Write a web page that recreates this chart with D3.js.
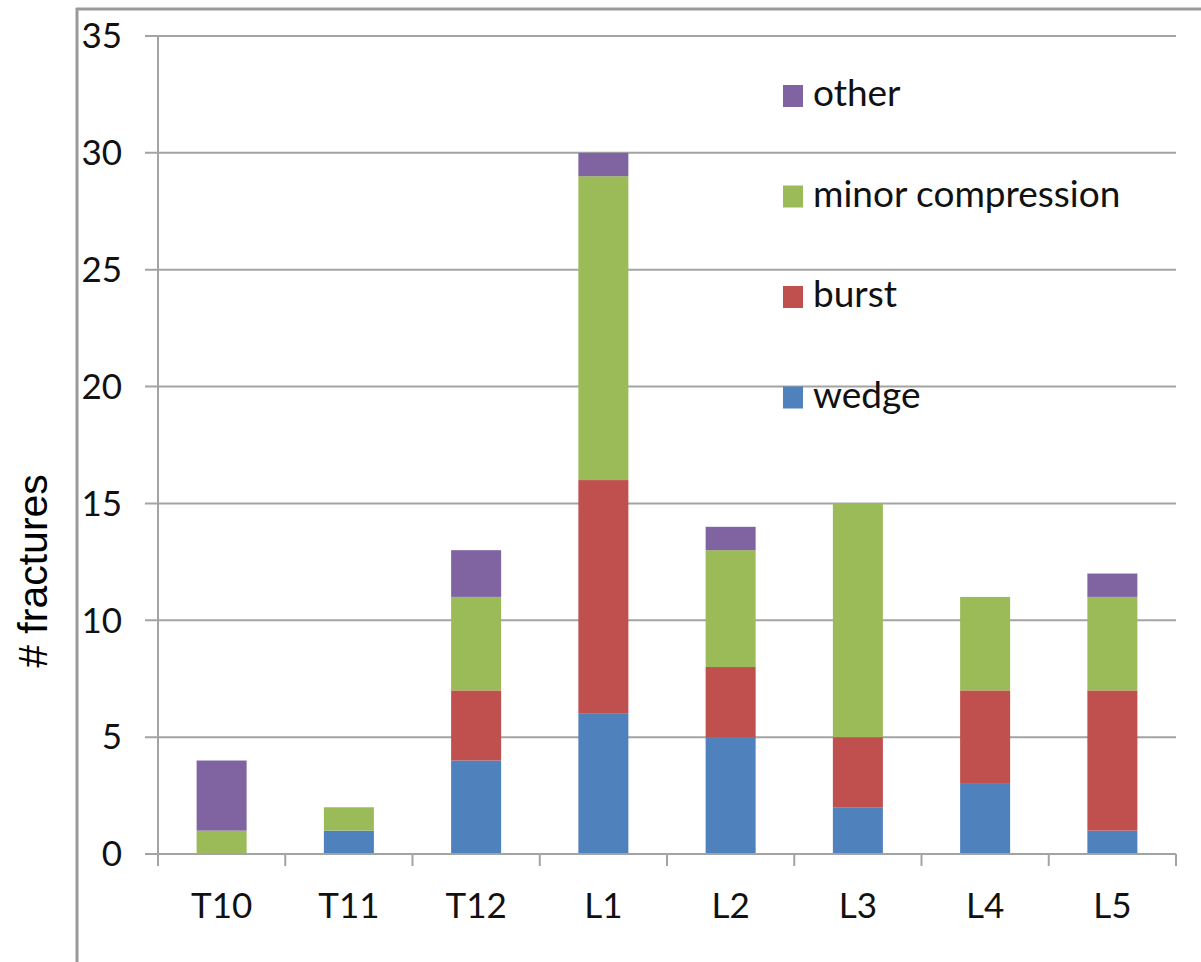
<!DOCTYPE html>
<html><head><meta charset="utf-8">
<script src="https://cdn.jsdelivr.net/npm/d3@7"></script>
<style>body{margin:0;background:#fff}svg{display:block}</style>
</head><body>
<svg id="c" width="1201" height="962"></svg>
<script>
const categories = ["T10","T11","T12","L1","L2","L3","L4","L5"];
const wedge = [0,1,4,6,5,2,3,1];
const burst = [0,0,3,10,3,3,4,6];
const minorCompression = [1,1,4,13,5,10,4,4];
const other = [3,0,2,1,1,0,0,1];
const seriesNames = ["wedge","burst","minor compression","other"];
const seriesColors = ["#4F81BD","#C0504D","#9BBB59","#8064A2"];
const yTicks = [0,5,10,15,20,25,30,35];
const yLabel = "# fractures";

const svg = d3.select("#c");
const font = "Lato, 'Open Sans', sans-serif";
const L = 158, R = 1176, T = 36, B = 854;

const rows = categories.map((c,i)=>({cat:c, wedge:wedge[i], burst:burst[i], "minor compression":minorCompression[i], other:other[i]}));
const stack = d3.stack().keys(seriesNames)(rows);

const x = d3.scaleBand().domain(categories).range([L,R]).paddingInner(0.607).paddingOuter(0.3035);
const y = d3.scaleLinear().domain([0,35]).range([B,T]);

// outer frame
svg.append("line").attr("x1",76).attr("x2",1201).attr("y1",9).attr("y2",9).attr("stroke","#9a9a9a").attr("stroke-width",3);
svg.append("line").attr("x1",77).attr("x2",77).attr("y1",8).attr("y2",962).attr("stroke","#9a9a9a").attr("stroke-width",3);

// gridlines
svg.append("g").selectAll("line").data(yTicks).join("line")
  .attr("x1",L-13).attr("x2",R).attr("y1",d=>y(d)).attr("y2",d=>y(d))
  .attr("stroke","#a3a3a3").attr("stroke-width",2);

// y tick labels
svg.append("g").selectAll("text").data(yTicks).join("text")
  .attr("x",122).attr("y",d=>y(d)).attr("dy","0.35em").attr("text-anchor","end")
  .attr("font-family",font).attr("font-size",35).attr("fill","#111").text(d=>d);

// bars
svg.append("g").selectAll("g").data(stack).join("g")
  .attr("fill",(d,i)=>seriesColors[i])
  .selectAll("rect").data(d=>d).join("rect")
  .attr("x",d=>x(d.data.cat)).attr("width",x.bandwidth())
  .attr("y",d=>y(d[1])).attr("height",d=>y(d[0])-y(d[1]));

// axes lines
svg.append("line").attr("x1",L).attr("x2",L).attr("y1",T).attr("y2",B+12).attr("stroke","#a3a3a3").attr("stroke-width",2);
const bounds = categories.map(c=>x(c)-x.step()*x.paddingOuter()).concat([R]);
svg.append("g").selectAll("line").data(bounds).join("line")
  .attr("x1",d=>d).attr("x2",d=>d).attr("y1",B).attr("y2",B+12).attr("stroke","#a3a3a3").attr("stroke-width",2);
svg.append("line").attr("x1",L-13).attr("x2",R).attr("y1",B).attr("y2",B).attr("stroke","#a3a3a3").attr("stroke-width",2);

// x labels
svg.append("g").selectAll("text").data(categories).join("text")
  .attr("x",d=>x(d)+x.bandwidth()/2).attr("y",918).attr("text-anchor","middle")
  .attr("font-family",font).attr("font-size",35).attr("fill","#111").text(d=>d);

// y label
svg.append("text").attr("transform","translate(47,571) rotate(-90)").attr("text-anchor","middle")
  .attr("font-family","'Liberation Sans', Arial, sans-serif").attr("font-size",41).attr("fill","#000").text(yLabel);

// legend
const legOrder = [3,2,1,0];
const lg = svg.append("g").selectAll("g").data(legOrder).join("g")
  .attr("transform",(d,i)=>`translate(783,${85+i*100.5})`);
lg.append("rect").attr("width",20).attr("height",22).attr("fill",d=>seriesColors[d]);
lg.append("text").attr("x",30).attr("y",21).attr("font-family",font).attr("font-size",37).attr("fill","#111").text(d=>seriesNames[d]);
</script>
</body></html>
